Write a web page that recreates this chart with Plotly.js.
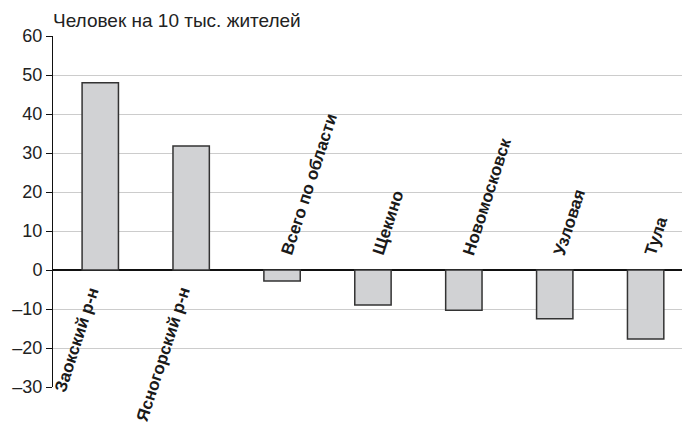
<!DOCTYPE html>
<html>
<head>
<meta charset="utf-8">
<script src="https://cdn.plot.ly/plotly-3.0.1.min.js"></script>
<style>html,body{margin:0;padding:0;background:#fff;}#chart{width:682px;height:423px;}</style>
</head>
<body>
<div id="chart"></div>
<script>
const categories = ["Заокский р-н", "Ясногорский р-н", "Всего по области", "Щекино", "Новомосковск", "Узловая", "Тула"];
const values = [48, 31.8, -2.8, -9.0, -10.3, -12.5, -17.7];
const tickVals = [-30, -20, -10, 0, 10, 20, 30, 40, 50, 60];
const tickText = ["–30", "–20", "–10", "0", "10", "20", "30", "40", "50", "60"];
const titleText = "Человек на 10 тыс. жителей";

const xs = categories.map((c, i) => i);

const annotations = categories.map((c, i) => {
  const pos = values[i] >= 0;
  return {
    x: i, y: 0, xref: 'x', yref: 'y',
    text: c, showarrow: false, textangle: -72,
    xanchor: pos ? 'right' : 'left',
    yanchor: pos ? 'top' : 'bottom',
    xshift: pos ? 5 : -7,
    yshift: pos ? -12 : 10,
    font: {family: 'Liberation Sans, Arial, sans-serif', size: 17, color: '#1a1a1a', weight: 'bold'}
  };
});
annotations.push({
  xref: 'paper', yref: 'paper', x: 0, y: 1, xanchor: 'left', yanchor: 'bottom',
  yshift: 3, xshift: -2,
  text: titleText, showarrow: false,
  font: {family: 'Liberation Sans, Arial, sans-serif', size: 19, color: '#222'}
});

const trace = {
  type: 'bar', x: xs, y: values,
  width: 0.4,
  marker: {color: '#d1d2d4', line: {color: '#333', width: 1.5}},
  hoverinfo: 'none'
};

const layout = {
  width: 682, height: 423,
  margin: {l: 53, r: 0, t: 36, b: 36},
  paper_bgcolor: '#fff', plot_bgcolor: '#fff',
  showlegend: false,
  xaxis: {range: [-0.52, 6.4], showticklabels: false, showgrid: false, zeroline: false, showline: false, ticks: ''},
  yaxis: {
    range: [-30, 60], tickvals: tickVals, ticktext: tickText,
    showgrid: true, gridcolor: '#cccccc', gridwidth: 1,
    zeroline: true, zerolinecolor: '#111', zerolinewidth: 1.2,
    showline: true, linecolor: '#111', linewidth: 1,
    ticks: 'outside', ticklen: 6, tickcolor: '#111',
    tickfont: {family: 'Liberation Sans, Arial, sans-serif', size: 18, color: '#222'}
  },
  annotations: annotations
};

Plotly.newPlot('chart', [trace], layout, {staticPlot: true, displayModeBar: false});
</script>
</body>
</html>
